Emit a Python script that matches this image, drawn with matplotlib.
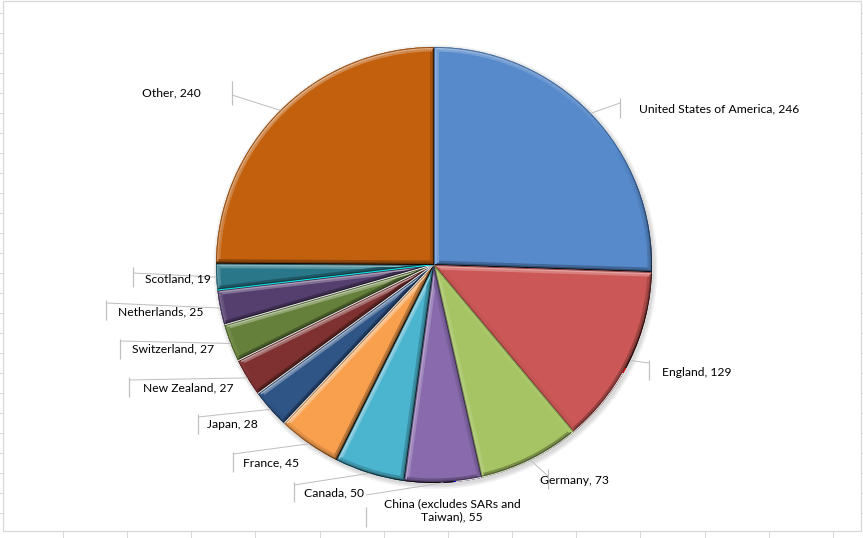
import numpy as np
import matplotlib
matplotlib.use("Agg")
import matplotlib.pyplot as plt
from matplotlib.collections import LineCollection
from matplotlib.colors import to_rgb
from matplotlib.patches import Rectangle, Circle

# ---------------- data ----------------
categories = ["United States of America", "England", "Germany",
              "China (excludes SARs and\nTaiwan)", "Canada", "France", "Japan",
              "New Zealand", "Switzerland", "Netherlands", "Scotland", "Other"]
values = [246, 129, 73, 55, 50, 45, 28, 27, 27, 25, 19, 240]
colors = ["#578ACB", "#CB5856", "#A6C463", "#896BAD", "#4BB4CE", "#F9A04E",
          "#2F5587", "#7E3130", "#65803A", "#553F6E", "#2A7789", "#C2600E"]

# ---------------- layout (pixel coords, y measured from top) ----------------
W, H = 863, 538
PIE_CX, PIE_CY, PIE_R = 434, 265, 218
# text_x, text_y, ha, tick_x, tick_y0, tick_y1, line_y
label_layout = [
    (639, 109, "left", 620, 98, 118, 103),
    (662, 372, "left", 649, 360, 380, 363),
    (540, 480, "left", 548, 469, 489, 476),
    (452, 510, "center", 366, 507, 527, 495),
    (304, 493, "left", 294, 482, 502, 485),
    (243, 463, "left", 233, 452, 472, 454),
    (207, 425, "left", 198, 414, 434, 417),
    (143, 388, "left", 129, 377, 397, 380),
    (132, 349, "left", 120, 339, 359, 341),
    (118, 312, "left", 106, 300, 320, 303),
    (145, 279, "left", 133, 267, 287, 273),
    (142, 93, "left", 232, 81, 105, 95),
]


def Y(y):
    return H - y


DPI = 100
PX = 72.0 / DPI  # one pixel in points

fig = plt.figure(figsize=(W / DPI, H / DPI), dpi=DPI)
ax = fig.add_axes([0, 0, 1, 1])

# soft shadow
for rr in [PIE_R + 4, PIE_R + 2.5, PIE_R + 1]:
    ax.add_patch(Circle((PIE_CX + 1.5, Y(PIE_CY) - 2), rr, color="black",
                        alpha=0.05, lw=0, zorder=1))

wedges, _ = ax.pie(values, colors=colors, startangle=90, counterclock=False,
                   center=(PIE_CX, Y(PIE_CY)), radius=PIE_R,
                   wedgeprops=dict(linewidth=0), frame=False)
for w in wedges:
    w.set_zorder(2)

# bevel effect
Lvec = np.array([-0.55, 0.83])
Lvec = Lvec / np.linalg.norm(Lvec)


def shade(c, b, k):
    c = np.array(to_rgb(c))
    if b >= 0:
        return tuple(c + (1 - c) * k * b)
    return tuple(c * (1 + k * b))


for w, col in zip(wedges, colors):
    cx, cy = w.center
    r = w.r
    t1, t2 = np.radians(w.theta1), np.radians(w.theta2)
    n = max(int(np.degrees(t2 - t1)), 2) * 2
    th = np.linspace(t1, t2, n)
    pts = [(cx, cy)] + [(cx + r * np.cos(t), cy + r * np.sin(t)) for t in th] + [(cx, cy)]
    pts = np.array(pts)
    segs, bright = [], []
    for p, q in zip(pts[:-1], pts[1:]):
        d = q - p
        L = np.hypot(*d)
        if L < 1e-9:
            continue
        nrm = np.array([d[1], -d[0]]) / L
        segs.append([p, q])
        bright.append(float(np.dot(nrm, Lvec)))
    for width, k, z in [(9, 0.30, 3), (4.5, 0.55, 4), (1.8, 0.75, 5)]:
        if z == 5:
            cols = [shade(col, min(b, 0) - 0.38, 0.8) for b in bright]
        else:
            cols = [shade(col, b, k) for b in bright]
        lc = LineCollection(segs, colors=cols, linewidths=width * PX,
                            capstyle="butt", joinstyle="round", zorder=z)
        lc.set_clip_path(w)
        ax.add_collection(lc)

# font size calibration (label width of USA label ~161 px)
fig.canvas.draw()
rend = fig.canvas.get_renderer()
probe = ax.text(0, 0, "United States of America, 246", fontsize=10, family="Lato")
wpx = probe.get_window_extent(rend).width
FS = 10 * 161.0 / wpx
probe.remove()

# labels and leader lines
lead_col = "#BFBFBF"
for w, cat, val, lay in zip(wedges, categories, values, label_layout):
    tx, ty, ha, kx, ky0, ky1, ly = lay
    mid = np.radians(0.5 * (w.theta1 + w.theta2))
    ex = w.center[0] + w.r * np.cos(mid)
    ey = w.center[1] + w.r * np.sin(mid)
    ax.plot([kx, ex], [Y(ly), ey], color=lead_col, lw=1 * PX, zorder=6,
            solid_capstyle="butt")
    ax.plot([kx, kx], [Y(ky0), Y(ky1)], color=lead_col, lw=1.2 * PX, zorder=6,
            solid_capstyle="butt")
    ax.text(tx, Y(ty), f"{cat}, {val}", fontsize=FS, family="Lato",
            color="#000000", ha=ha, va="center", multialignment="center",
            linespacing=1.2, zorder=7)

# chart frame and surrounding worksheet grid
grid_col = "#D9D9D9"
ax.add_patch(Rectangle((3, Y(531)), 857.5, 531 - 0.5, fill=False,
                       edgecolor=grid_col, lw=1.3 * PX, zorder=8))
for yy in np.arange(13, 531, 20):
    ax.plot([0, 3], [Y(yy), Y(yy)], color=grid_col, lw=1 * PX, zorder=8)
    ax.plot([860.5, 863], [Y(yy), Y(yy)], color=grid_col, lw=1 * PX, zorder=8)
for xx in np.arange(63, 863, 64.15):
    ax.plot([xx, xx], [Y(531), Y(538)], color=grid_col, lw=1 * PX, zorder=8)

ax.set_xlim(0, W)
ax.set_ylim(0, H)
ax.set_aspect("auto")
ax.axis("off")

fig.savefig("out.png", dpi=DPI, facecolor="white")
